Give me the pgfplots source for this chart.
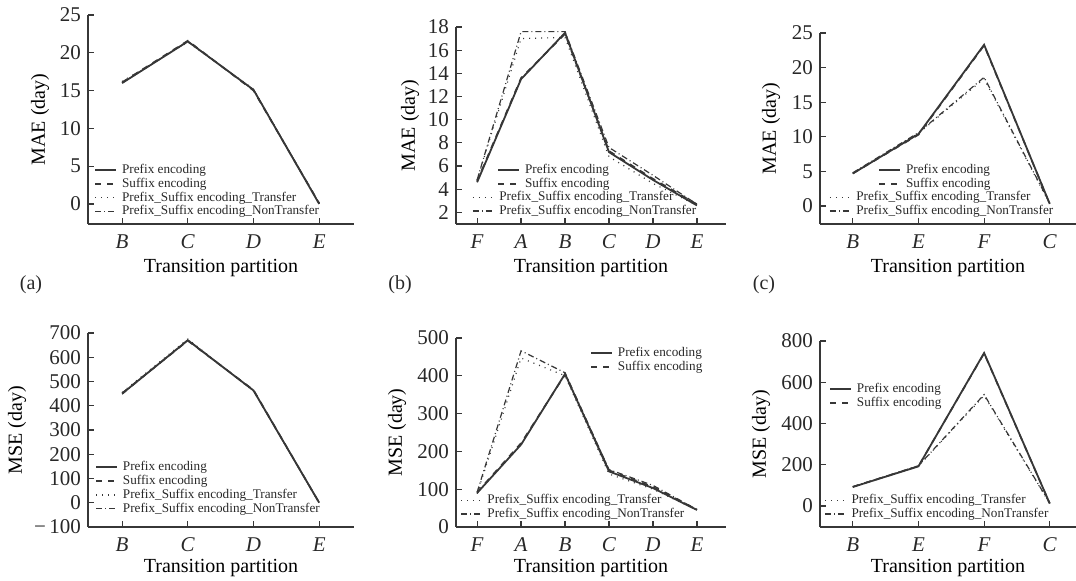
\documentclass[border=0pt]{standalone}
\usepackage{fontspec}
\setmainfont{Liberation Serif}
\usepackage{pgfplots}
\pgfplotsset{compat=1.18}
\definecolor{ln}{RGB}{55,55,55}
\definecolor{tx}{RGB}{40,40,40}

% 1 px of the reference = 0.5pt
\pgfplotsset{
  panel/.style={
    scale only axis, anchor=south west,
    axis x line=bottom, axis y line=left,
    axis line style={-, ln, line width=0.8pt},
    tick align=inside, major tick length=3pt,
    tick style={ln, line width=0.6pt},
    ticklabel style={font=\fontsize{10.5}{12}\selectfont, text=tx},
    /pgf/number format/assume math mode=true,
    xticklabel style={yshift=-2pt},
    label style={font=\fontsize{10.4}{12}\selectfont, text=tx},
    no markers, clip=false,
    legend cell align=left,
    legend image code/.code={\draw[##1] (0pt,0pt) -- (10.5pt,0pt);},
    legend style={draw=none, fill=none, anchor=north west,
      inner sep=0pt, column sep=2pt,
      font=\fontsize{6.6}{7}\selectfont, text=tx,
      nodes={text height=4.7pt, text depth=1.4pt, inner sep=0.4pt}},
  },
  ylab/.style={every axis y label/.style={at={([xshift=-#1]axis description cs:0,0.5)}, rotate=90, anchor=center}},
  xlab/.style={every axis x label/.style={at={([yshift=-#1]axis description cs:0.5,0)}, anchor=center}},
  s1/.style={ln, line width=0.9pt, solid},
  s2/.style={ln, line width=0.8pt, dash pattern=on 3pt off 3pt},
  s3/.style={ln, line width=0.6pt, dash pattern=on 0.5pt off 2.5pt},
  s4/.style={ln, line width=0.6pt, dash pattern=on 3pt off 1.5pt on 0.5pt off 1.5pt},
}

\begin{document}
\begin{tikzpicture}
\useasboundingbox (0,0) rectangle (538pt,290.5pt);

% ---------- top (a) ----------
\begin{axis}[panel, at={(44pt,178.5pt)}, width=133pt, height=104.5pt,
  xmin=-0.52, xmax=3.53, ymin=-2.65, ymax=25,
  xtick={0,...,3}, xticklabels={\textit{B},\textit{C},\textit{D},\textit{E}},
  ytick={0,5,...,25},
  ylabel={MAE (day)}, xlabel={Transition partition}, ylab=24pt, xlab=22pt,
  legend style={at={(axis description cs:0.023,0.292)}}]
\addplot[s1] coordinates {(0,16.0) (1,21.5) (2,15.1) (3,0.0)};
\addplot[s2] coordinates {(0,16.1) (1,21.6) (2,15.0) (3,0.1)};
\addplot[s3] coordinates {(0,16.2) (1,21.4) (2,15.2) (3,0.0)};
\addplot[s4] coordinates {(0,16.0) (1,21.5) (2,15.1) (3,0.1)};
\legend{Prefix encoding, Suffix encoding, Prefix\_Suffix encoding\_Transfer, Prefix\_Suffix encoding\_NonTransfer}
\end{axis}

% ---------- top (b) ----------
\begin{axis}[panel, at={(228pt,178.5pt)}, width=135pt, height=98.5pt,
  xmin=-0.48, xmax=5.66, ymin=1, ymax=18,
  xtick={0,...,5}, xticklabels={\textit{F},\textit{A},\textit{B},\textit{C},\textit{D},\textit{E}},
  ytick={2,4,...,18},
  ylabel={MAE (day)}, xlabel={Transition partition}, ylab=23pt, xlab=22pt,
  legend style={at={(axis description cs:0.152,0.31)}}]
\addplot[s1] coordinates {(0,4.6) (1,13.5) (2,17.5) (3,7.2) (4,4.8) (5,2.6)};
\addplot[s2] coordinates {(0,4.7) (1,13.6) (2,17.4) (3,7.3) (4,4.9) (5,2.7)};
\addplot[s3] coordinates {(0,4.8) (1,17.0) (2,17.1) (3,6.8) (4,4.5) (5,2.6)};
\addplot[s4] coordinates {(0,4.8) (1,17.6) (2,17.6) (3,7.6) (4,5.2) (5,2.7)};
\legend{Prefix encoding, Suffix encoding}
\end{axis}
\begin{axis}[panel, hide axis, at={(228pt,178.5pt)}, width=135pt, height=98.5pt,
  xmin=-0.48, xmax=5.66, ymin=1, ymax=18,
  legend style={at={(axis description cs:0.059,0.173)}}]
\addlegendimage{s3}
\addlegendimage{s4}
\legend{Prefix\_Suffix encoding\_Transfer, Prefix\_Suffix encoding\_NonTransfer}
\end{axis}

% ---------- top (c) ----------
\begin{axis}[panel, at={(410pt,178.5pt)}, width=128pt, height=95.5pt,
  xmin=-0.5, xmax=3.4, ymin=-2.6, ymax=25,
  xtick={0,...,3}, xticklabels={\textit{B},\textit{E},\textit{F},\textit{C}},
  ytick={0,5,...,25},
  ylabel={MAE (day)}, xlabel={Transition partition}, ylab=24.5pt, xlab=22pt,
  legend style={at={(axis description cs:0.227,0.319)}}]
\addplot[s1] coordinates {(0,4.7) (1,10.4) (2,23.3) (3,0.3)};
\addplot[s2] coordinates {(0,4.7) (1,10.3) (2,23.2) (3,0.3)};
\addplot[s3] coordinates {(0,4.7) (1,10.5) (2,18.4) (3,0.3)};
\addplot[s4] coordinates {(0,4.8) (1,10.6) (2,18.6) (3,0.4)};
\legend{Prefix encoding, Suffix encoding}
\end{axis}
\begin{axis}[panel, hide axis, at={(410pt,178.5pt)}, width=128pt, height=95.5pt,
  xmin=-0.5, xmax=3.4, ymin=-2.6, ymax=25,
  legend style={at={(axis description cs:0.035,0.178)}}]
\addlegendimage{s3}
\addlegendimage{s4}
\legend{Prefix\_Suffix encoding\_Transfer, Prefix\_Suffix encoding\_NonTransfer}
\end{axis}

% ---------- bottom (a) ----------
\begin{axis}[panel, at={(44pt,27pt)}, width=133pt, height=97pt,
  xmin=-0.52, xmax=3.53, ymin=-100, ymax=700,
  xtick={0,...,3}, xticklabels={\textit{B},\textit{C},\textit{D},\textit{E}},
  ytick={-100,0,...,700}, yticklabels={−\,100,0,100,200,300,400,500,600,700},
  ylabel={MSE (day)}, xlabel={Transition partition}, ylab=35.5pt, xlab=20.5pt,
  legend style={at={(axis description cs:0.026,0.345)}}]
\addplot[s1] coordinates {(0,450) (1,670) (2,463) (3,0)};
\addplot[s2] coordinates {(0,452) (1,668) (2,465) (3,0)};
\addplot[s3] coordinates {(0,455) (1,675) (2,460) (3,0)};
\addplot[s4] coordinates {(0,448) (1,672) (2,462) (3,0)};
\legend{Prefix encoding, Suffix encoding, Prefix\_Suffix encoding\_Transfer, Prefix\_Suffix encoding\_NonTransfer}
\end{axis}

% ---------- bottom (b) ----------
\begin{axis}[panel, at={(228pt,27pt)}, width=135pt, height=94.5pt,
  xmin=-0.48, xmax=5.66, ymin=0, ymax=500,
  xtick={0,...,5}, xticklabels={\textit{F},\textit{A},\textit{B},\textit{C},\textit{D},\textit{E}},
  ytick={0,100,...,500},
  ylabel={MSE (day)}, xlabel={Transition partition}, ylab=29.5pt, xlab=20.5pt,
  legend style={at={(axis description cs:0.496,0.958)}}]
\addplot[s1] coordinates {(0,90) (1,218) (2,405) (3,147) (4,103) (5,45)};
\addplot[s2] coordinates {(0,92) (1,222) (2,403) (3,150) (4,106) (5,46)};
\addplot[s3] coordinates {(0,88) (1,447) (2,400) (3,140) (4,100) (5,45)};
\addplot[s4] coordinates {(0,92) (1,466) (2,408) (3,152) (4,110) (5,46)};
\legend{Prefix encoding, Suffix encoding}
\end{axis}
\begin{axis}[panel, hide axis, at={(228pt,27pt)}, width=135pt, height=94.5pt,
  xmin=-0.48, xmax=5.66, ymin=0, ymax=500,
  legend style={at={(axis description cs:0.015,0.18)}}]
\addlegendimage{s3}
\addlegendimage{s4}
\legend{Prefix\_Suffix encoding\_Transfer, Prefix\_Suffix encoding\_NonTransfer}
\end{axis}

% ---------- bottom (c) ----------
\begin{axis}[panel, at={(410pt,27pt)}, width=128pt, height=93pt,
  xmin=-0.5, xmax=3.4, ymin=-102, ymax=800,
  xtick={0,...,3}, xticklabels={\textit{B},\textit{E},\textit{F},\textit{C}},
  ytick={0,200,...,800},
  ylabel={MSE (day)}, xlabel={Transition partition}, ylab=29.5pt, xlab=20.5pt,
  legend style={at={(axis description cs:0.035,0.78)}}]
\addplot[s1] coordinates {(0,92) (1,192) (2,742) (3,12)};
\addplot[s2] coordinates {(0,93) (1,193) (2,740) (3,12)};
\addplot[s3] coordinates {(0,92) (1,194) (2,535) (3,12)};
\addplot[s4] coordinates {(0,93) (1,195) (2,540) (3,14)};
\legend{Prefix encoding, Suffix encoding}
\end{axis}
\begin{axis}[panel, hide axis, at={(410pt,27pt)}, width=128pt, height=93pt,
  xmin=-0.5, xmax=3.4, ymin=-102, ymax=800,
  legend style={at={(axis description cs:0.016,0.183)}}]
\addlegendimage{s3}
\addlegendimage{s4}
\legend{Prefix\_Suffix encoding\_Transfer, Prefix\_Suffix encoding\_NonTransfer}
\end{axis}

% panel tags
\node[font=\fontsize{10}{12}\selectfont, text=tx] at (15.5pt,148pt) {(a)};
\node[font=\fontsize{10}{12}\selectfont, text=tx] at (200pt,148pt) {(b)};
\node[font=\fontsize{10}{12}\selectfont, text=tx] at (382pt,148pt) {(c)};
\end{tikzpicture}
\end{document}
